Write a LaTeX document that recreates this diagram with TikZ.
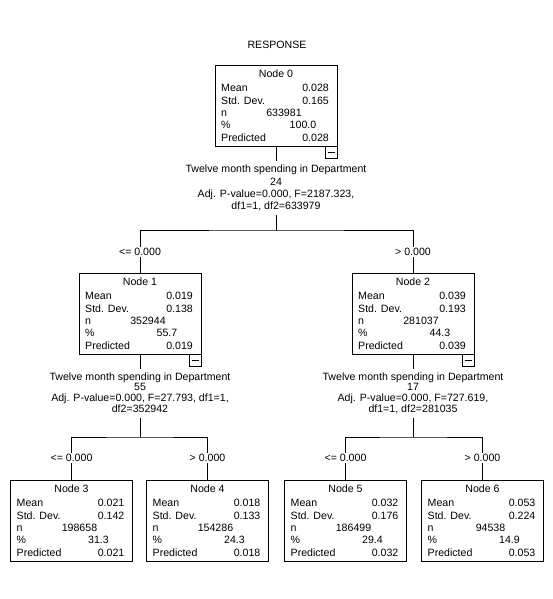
\documentclass[tikz,border=0pt]{standalone}
\usepackage{fontspec}
\setmainfont{Liberation Sans}
\newcommand\treebox[9]{%
 \node[box] (#1) at (#2,#3+40.5) {};
 \node[txt] (#1-t) at (#2,#3+8.3) {#4};
 \node[txt,anchor=west] (#1-ml) at (#2-55,#3+23) {Mean};
 \node[txt,anchor=east] (#1-mv) at (#2+53,#3+23) {#5};
 \node[txt,anchor=west] (#1-sl) at (#2-55,#3+35.3) {Std. Dev.};
 \node[txt,anchor=east] (#1-sv) at (#2+53,#3+35.3) {#6};
 \node[txt,anchor=west] (#1-nl) at (#2-55,#3+47.6) {n};
 \node[txt] (#1-nv) at (#2+8,#3+47.6) {#7};
 \node[txt,anchor=west] (#1-pl) at (#2-55,#3+60) {\%};
 \node[txt] (#1-pv) at (#2+27,#3+60) {#8};
 \node[txt,anchor=west] (#1-dl) at (#2-55,#3+72.3) {Predicted};
 \node[txt,anchor=east] (#1-dv) at (#2+53,#3+72.3) {#9};
}
\begin{document}
\begin{tikzpicture}[x=1pt,y=-1pt,
 txt/.style={font=\fontsize{10.6pt}{12pt}\selectfont, inner sep=0pt, text height=7.6pt, text depth=0pt},
 box/.style={draw, line width=0.9pt, minimum width=122pt, minimum height=81pt, inner sep=0pt},
 minus/.style={draw, line width=0.9pt, minimum size=12pt, inner sep=0pt, fill=white},
 conn/.style={line width=0.9pt},
 lab/.style={txt, fill=white, inner sep=1.5pt}]
\fill[white] (0,0) rectangle (553,599);
\useasboundingbox (0,0) rectangle (553,599);

\node[txt] (title) at (277,45) {RESPONSE};

% tree nodes
\treebox{n0}{276}{65}{Node 0}{0.028}{0.165}{633981}{100.0}{0.028}
\treebox{n1}{140}{273}{Node 1}{0.019}{0.138}{352944}{55.7}{0.019}
\treebox{n2}{413}{273}{Node 2}{0.039}{0.193}{281037}{44.3}{0.039}
\treebox{n3}{71.5}{480}{Node 3}{0.021}{0.142}{198658}{31.3}{0.021}
\treebox{n4}{207.5}{480}{Node 4}{0.018}{0.133}{154286}{24.3}{0.018}
\treebox{n5}{345.5}{480}{Node 5}{0.032}{0.176}{186499}{29.4}{0.032}
\treebox{n6}{482.5}{480}{Node 6}{0.053}{0.224}{94538}{14.9}{0.053}

% split texts
\node[txt] (s0a) at (276,169) {Twelve month spending in Department};
\node[txt] (s0b) at (276,181.5) {24};
\node[txt] (s0c) at (276,193.5) {Adj. P-value=0.000, F=2187.323,};
\node[txt] (s0d) at (276,205.5) {df1=1, df2=633979};

\node[txt] (s1a) at (140,376.5) {Twelve month spending in Department};
\node[txt] (s1b) at (140,387) {55};
\node[txt] (s1c) at (140,397.5) {Adj. P-value=0.000, F=27.793, df1=1,};
\node[txt] (s1d) at (140,408.5) {df2=352942};

\node[txt] (s2a) at (413,376.5) {Twelve month spending in Department};
\node[txt] (s2b) at (413,387) {17};
\node[txt] (s2c) at (413,397.5) {Adj. P-value=0.000, F=727.619,};
\node[txt] (s2d) at (413,408.5) {df1=1, df2=281035};

% connectors
\coordinate (d0) at (276,161);
\coordinate (u0) at (276,215);
\coordinate (j0) at (276,230);
\draw[conn] (n0.south) -- (d0);
\draw[conn] (u0) -- (j0);
\draw[conn] (n1.north) |- (j0) -| (n2.north);

\coordinate (d1) at (140,369);
\coordinate (u1) at (140,418);
\coordinate (j1) at (140,437);
\draw[conn] (n1.south) -- (d1);
\draw[conn] (u1) -- (j1);
\draw[conn] (n3.north) |- (j1) -| (n4.north);

\coordinate (d2) at (413,369);
\coordinate (u2) at (413,418);
\coordinate (j2) at (413,437);
\draw[conn] (n2.south) -- (d2);
\draw[conn] (u2) -- (j2);
\draw[conn] (n5.north) |- (j2) -| (n6.north);

% minus boxes
\node[minus] (n0m) at (331,152) {\rule{7pt}{0.8pt}};
\node[minus] (n1m) at (195,360) {\rule{7pt}{0.8pt}};
\node[minus] (n2m) at (468,360) {\rule{7pt}{0.8pt}};

% branch labels
\node[lab] (l1) at (140,252) {<= 0.000};
\node[lab] (l2) at (413,252) {> 0.000};
\node[lab] (l3) at (71.5,458) {<= 0.000};
\node[lab] (l4) at (207.5,458) {> 0.000};
\node[lab] (l5) at (345.5,458) {<= 0.000};
\node[lab] (l6) at (482.5,458) {> 0.000};
\end{tikzpicture}
\end{document}
